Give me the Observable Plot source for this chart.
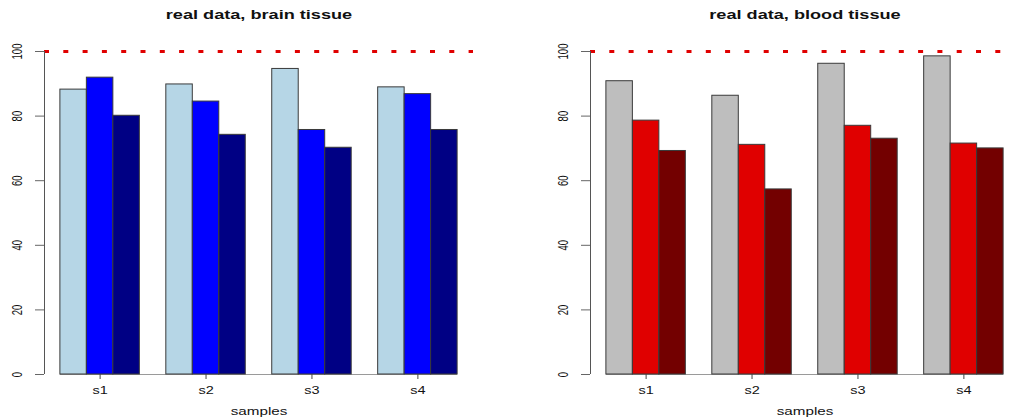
<!DOCTYPE html>
<html>
<head>
<meta charset="utf-8">
<script src="https://cdn.jsdelivr.net/npm/d3@7"></script>
<script src="https://cdn.jsdelivr.net/npm/@observablehq/plot@0.6"></script>
<style>
  html, body { margin: 0; padding: 0; background: #fff; }
  #wrap { position: relative; width: 1011px; height: 418px; overflow: hidden; background: #fff; }
  .panel { position: absolute; top: 0; width: 546px; height: 418px; }
  .title { position: absolute; top: 8px; font: bold 12.5px "Liberation Sans", Arial, sans-serif; white-space: nowrap; color: #111; }
</style>
</head>
<body>
<div id="wrap"></div>
<script>
// ---- data ----
const samples = ["s1", "s2", "s3", "s4"];
const seriesNames = ["measure 1", "measure 2", "measure 3"];
const yTicks = [0, 20, 40, 60, 80, 100];
const brainTitle = "real data, brain tissue";
const bloodTitle = "real data, blood tissue";
const xLabel = "samples";
const brainValues = [
  [88.2, 91.9, 80.1],
  [89.8, 84.5, 74.2],
  [94.6, 75.7, 70.2],
  [88.9, 86.8, 75.7]
];
const bloodValues = [
  [90.8, 78.6, 69.2],
  [86.3, 71.1, 57.3],
  [96.2, 77.0, 73.0],
  [98.5, 71.5, 70.0]
];
const brainColors = ["#b6d6e6", "#0000ff", "#000084"];
const bloodColors = ["#bebebe", "#e00000", "#730000"];
const referenceLine = [100];

// ---- layout ----
const K = 1.45; // horizontal stretch of the text glyphs in the reference
const W = 546, H = 418;
const mL = 44, mR = 73, mT = 51, mB = 44;
const nS = seriesNames.length;
const slotsPerGroup = nS + 1;
const xDomain = [0.4, samples.length * slotsPerGroup + 0.6];

function stretchText(svg) {
  svg.querySelectorAll("text").forEach(t => {
    const tr = t.getAttribute("transform");
    if (tr && tr.includes("rotate")) t.setAttribute("transform", tr + ` scale(1,${K})`);
    else if (tr) t.setAttribute("transform", tr + ` scale(${K},1)`);
    else {
      t.style.transformBox = "fill-box";
      t.style.transformOrigin = "center";
      t.style.transform = `scaleX(${K})`;
    }
  });
}

function panel(left, title, values, colors) {
  const rows = samples.flatMap((s, i) => seriesNames.map((k, j) => ({
    sample: s, series: k, value: values[i][j], slot: 1 + i * slotsPerGroup + j
  })));
  const centers = samples.map((s, i) => 1 + i * slotsPerGroup + nS / 2);
  const firstSlot = d3.min(rows, d => d.slot), lastSlot = d3.max(rows, d => d.slot) + 1;

  const chart = Plot.plot({
    width: W, height: H,
    marginLeft: mL, marginRight: mR, marginTop: mT, marginBottom: mB,
    x: {domain: xDomain, axis: null, label: null},
    y: {domain: [0, 100], axis: null, label: null},
    color: {domain: seriesNames, range: colors},
    style: {fontFamily: '"Liberation Sans", Arial, sans-serif', background: "transparent", overflow: "visible", color: "#111"},
    marks: [
      Plot.ruleY([0], {x1: firstSlot, x2: lastSlot, stroke: "#9a9a9a", strokeWidth: 1}),
      Plot.rectY(rows, {x1: "slot", x2: d => d.slot + 1, y: "value", fill: "series", stroke: "#3a3a3a", strokeWidth: 1}),
      Plot.ruleY(referenceLine, {stroke: "#e00000", strokeWidth: 3, strokeDasharray: "5,14.3"}),
      Plot.ruleX([xDomain[0]], {y1: yTicks[0], y2: yTicks[yTicks.length - 1], stroke: "#555", strokeWidth: 1}),
      Plot.axisY({ticks: yTicks, tickSize: 9, tickFormat: () => "", stroke: "#666", label: null}),
      Plot.text(yTicks, {y: d => d, text: d => String(d), frameAnchor: "left", dx: -27, rotate: -90,
        textAnchor: "middle", lineAnchor: "middle", fontSize: 9.5, fill: "#111"}),
      Plot.axisX({ticks: centers, tickSize: 5, tickPadding: 7, fontSize: 10, label: null,
        tickFormat: d => samples[centers.indexOf(d)], stroke: "#444", fill: "#111"}),
      Plot.text([xLabel], {frameAnchor: "bottom", dy: 37.5, lineAnchor: "middle", fontSize: 10.5, fill: "#111"})
    ]
  });
  stretchText(chart);

  const div = document.createElement("div");
  div.className = "panel";
  div.style.left = left + "px";
  div.appendChild(chart);
  const t = document.createElement("div");
  t.className = "title";
  t.textContent = title;
  const cx = mL + (W - mL - mR) / 2;
  t.style.left = cx + "px";
  t.style.transform = `translateX(-50%) scaleX(${K})`;
  div.appendChild(t);
  document.getElementById("wrap").appendChild(div);
}

panel(0, brainTitle, brainValues, brainColors);
panel(W, bloodTitle, bloodValues, bloodColors);
</script>
</body>
</html>
